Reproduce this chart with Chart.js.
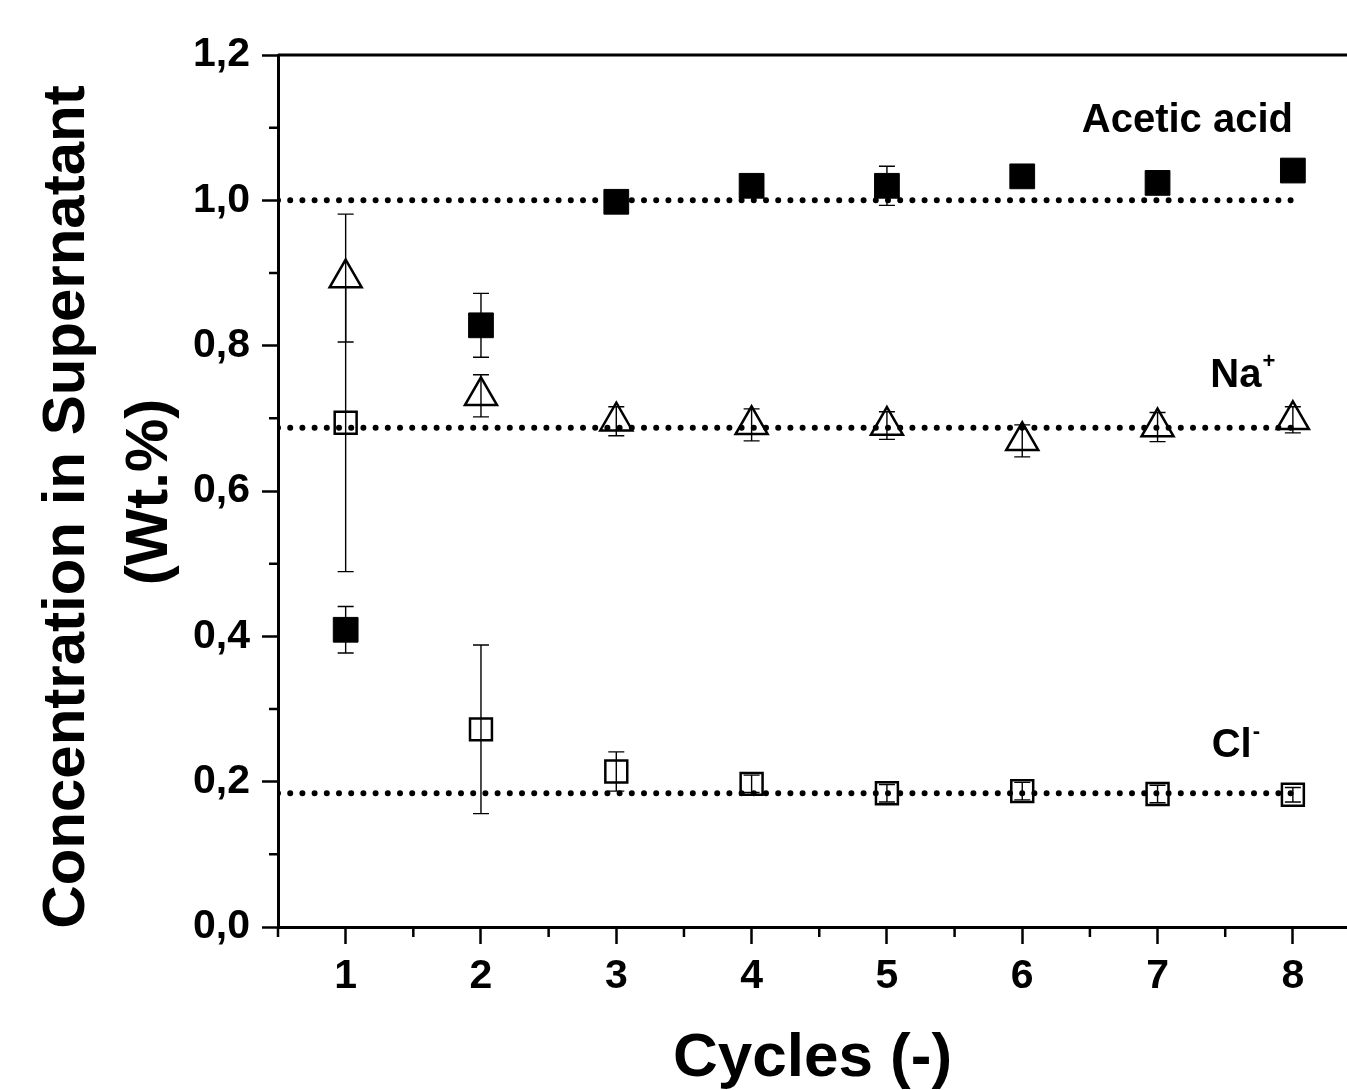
<!DOCTYPE html>
<html>
<head>
<meta charset="utf-8" />
<title>Concentration in Supernatant</title>
<script src="https://cdn.jsdelivr.net/npm/chart.js"></script>
<style>
    body { margin: 0; background: #fff; }
    #wrap { width: 1347px; height: 1090px; }
</style>
</head>
<body>
<div id="wrap"><canvas id="chart"></canvas></div>

<script>
    const cycles = [1, 2, 3, 4, 5, 6, 7, 8];

    const aceticAcid = [0.409, 0.828, 0.998, 1.020, 1.020, 1.033, 1.024, 1.041];
    const aceticErr  = [0.032, 0.044, 0.010, 0.010, 0.027, 0.010, 0.010, 0.010];

    const sodium    = [0.893, 0.731, 0.696, 0.691, 0.690, 0.669, 0.688, 0.698];
    const sodiumErr = [0.088, 0.029, 0.020, 0.022, 0.019, 0.022, 0.020, 0.018];

    const chloride    = [0.694, 0.272, 0.214, 0.197, 0.184, 0.187, 0.183, 0.182];
    const chlorideErr = [0.205, 0.116, 0.027, 0.012, 0.012, 0.012, 0.012, 0.010];

    // feed concentrations (dotted lines)
    const refLevels = [1.0, 0.687, 0.184];
    const refRange = [0.5, 8];

    const xTicks = [1, 2, 3, 4, 5, 6, 7, 8];
    const xMinor = [0.5, 1.5, 2.5, 3.5, 4.5, 5.5, 6.5, 7.5];
    const yTicks = [0, 0.2, 0.4, 0.6, 0.8, 1.0, 1.2];
    const yMinor = [0.1, 0.3, 0.5, 0.7, 0.9, 1.1];

    const yTitle = ['Concentration in Supernatant', '(Wt.%)'];

    const FONT = "'Liberation Sans', Arial, sans-serif";

    function points(values) {
        return cycles.map((c, i) => ({x: c, y: values[i]}));
    }

    function drawLabel(chart, text, sup, xv, yv) {
        const ctx = chart.ctx;
        const x = chart.scales.x.getPixelForValue(xv);
        const y = chart.scales.y.getPixelForValue(yv);
        ctx.fillStyle = '#000';
        ctx.textAlign = 'left';
        ctx.textBaseline = 'alphabetic';
        ctx.font = 'bold 40px ' + FONT;
        ctx.fillText(text, x, y);
        if (sup) {
            const w = ctx.measureText(text).width;
            ctx.font = 'bold 22px ' + FONT;
            ctx.fillText(sup, x + w + 1, y - 19);
        }
    }

    const extras = {
        id: 'extras',
        afterDatasetDraw(chart, args) {
            const ds = chart.data.datasets[args.index];
            if (!ds.errors) return;
            const ctx = chart.ctx;
            const xs = chart.scales.x, ys = chart.scales.y;
            ctx.save();
            ctx.strokeStyle = '#000';
            ctx.lineWidth = 1.4;
            ds.data.forEach((p, i) => {
                const e = ds.errors[i];
                const px = xs.getPixelForValue(p.x);
                const top = ys.getPixelForValue(p.y + e);
                const bot = ys.getPixelForValue(p.y - e);
                ctx.beginPath();
                ctx.moveTo(px, top);
                ctx.lineTo(px, bot);
                ctx.moveTo(px - 8, top);
                ctx.lineTo(px + 8, top);
                ctx.moveTo(px - 8, bot);
                ctx.lineTo(px + 8, bot);
                ctx.stroke();
            });
            ctx.restore();
        },
        afterDraw(chart) {
            const ctx = chart.ctx;
            const area = chart.chartArea;
            const xs = chart.scales.x, ys = chart.scales.y;
            ctx.save();
            ctx.strokeStyle = '#000';
            ctx.lineWidth = 3;
            ctx.beginPath();
            ctx.moveTo(area.left, area.top);
            ctx.lineTo(chart.width, area.top);
            ctx.stroke();

            // minor ticks
            ctx.lineWidth = 2.5;
            ctx.beginPath();
            yMinor.forEach(v => {
                const py = ys.getPixelForValue(v);
                ctx.moveTo(area.left - 9, py);
                ctx.lineTo(area.left, py);
            });
            xMinor.forEach(v => {
                const px = xs.getPixelForValue(v);
                ctx.moveTo(px, area.bottom);
                ctx.lineTo(px, area.bottom + 10);
            });
            ctx.stroke();

            // y axis title, two centred lines
            ctx.fillStyle = '#000';
            ctx.font = 'bold 60px ' + FONT;
            ctx.textAlign = 'center';
            ctx.textBaseline = 'middle';
            ctx.translate(67, 507);
            ctx.rotate(-Math.PI / 2);
            ctx.fillText(yTitle[0], 0, 0);
            ctx.fillText(yTitle[1], 15, 83);
            ctx.setTransform(1, 0, 0, 1, 0, 0);

            drawLabel(chart, 'Acetic acid', '', 6.44, 1.094);
            drawLabel(chart, 'Na', '+', 7.39, 0.743);
            drawLabel(chart, 'Cl', '-', 7.40, 0.234);
            ctx.restore();
        }
    };

    const tickFont = {family: FONT, size: 41, weight: 'bold'};

    new Chart(document.getElementById('chart'), {
        type: 'scatter',
        data: {
            datasets: [
                ...refLevels.map(level => ({
                    type: 'line',
                    data: [{x: refRange[0], y: level}, {x: refRange[1], y: level}],
                    borderColor: '#000',
                    borderWidth: 6,
                    borderDash: [0, 12.2],
                    borderCapStyle: 'round',
                    pointRadius: 0,
                    fill: false,
                })),
                {
                    label: 'Acetic acid',
                    data: points(aceticAcid),
                    errors: aceticErr,
                    pointStyle: 'rect',
                    pointRadius: 17.5,
                    backgroundColor: '#000',
                    borderColor: '#000',
                    borderWidth: 1,
                },
                {
                    label: 'Na+',
                    data: points(sodium),
                    errors: sodiumErr,
                    pointStyle: 'triangle',
                    pointRadius: 18.5,
                    backgroundColor: '#fff',
                    borderColor: '#000',
                    borderWidth: 2.5,
                },
                {
                    label: 'Cl-',
                    data: points(chloride),
                    errors: chlorideErr,
                    pointStyle: 'rect',
                    pointRadius: 15.5,
                    backgroundColor: '#fff',
                    borderColor: '#000',
                    borderWidth: 2.5,
                },
            ]
        },
        options: {
            responsive: true,
            maintainAspectRatio: false,
            animation: false,
            layout: {autoPadding: false, padding: {top: 55, right: 0, left: 0, bottom: 0}},
            plugins: {
                legend: {display: false},
                tooltip: {enabled: false},
            },
            scales: {
                x: {
                    type: 'linear',
                    min: 0.5,
                    max: 8.4,
                    afterBuildTicks: axis => { axis.ticks = xTicks.map(v => ({value: v})); },
                    afterFit: scale => {
                        scale.height = 163;
                        scale.paddingLeft = 0;
                        scale.paddingRight = 0;
                    },
                    ticks: {
                        font: tickFont,
                        color: '#000',
                        padding: 8,
                        callback: v => String(v),
                    },
                    grid: {
                        drawOnChartArea: false,
                        drawTicks: true,
                        tickLength: 17,
                        tickWidth: 2.5,
                        tickColor: '#000',
                    },
                    border: {display: true, width: 3, color: '#000'},
                    title: {
                        display: true,
                        text: 'Cycles (-)',
                        color: '#000',
                        font: {family: FONT, size: 62, weight: 'bold', lineHeight: 1.0},
                        padding: {top: 0, bottom: 0},
                    },
                },
                y: {
                    min: 0,
                    max: 1.2,
                    afterBuildTicks: axis => { axis.ticks = yTicks.map(v => ({value: v})); },
                    afterFit: scale => {
                        scale.width = 278;
                        scale.paddingTop = 0;
                        scale.paddingBottom = 0;
                    },
                    ticks: {
                        font: tickFont,
                        color: '#000',
                        padding: 12,
                        callback: v => v.toFixed(1).replace('.', ','),
                    },
                    grid: {
                        drawOnChartArea: false,
                        drawTicks: true,
                        tickLength: 16,
                        tickWidth: 2.5,
                        tickColor: '#000',
                    },
                    border: {display: true, width: 3, color: '#000'},
                },
            },
        },
        plugins: [extras]
    });
</script>
</body>
</html>
